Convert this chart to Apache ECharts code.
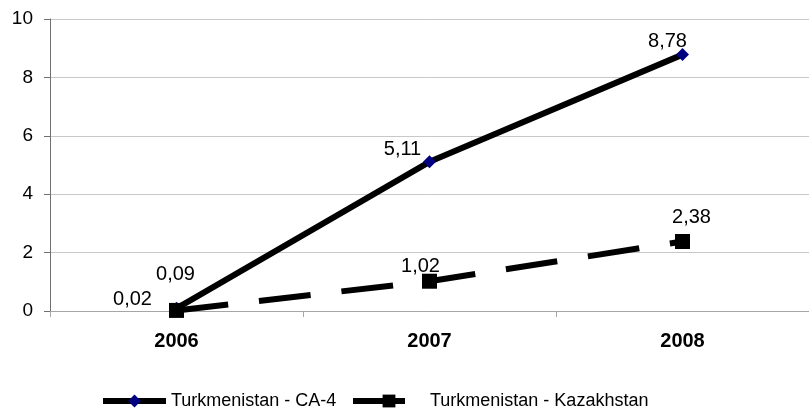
<!DOCTYPE html>
<html>
<head>
<meta charset="utf-8">
<script src="https://cdn.jsdelivr.net/npm/echarts@6/dist/echarts.min.js"></script>
<style>html,body{margin:0;padding:0;background:#fff}#c{width:809px;height:416px}</style>
</head>
<body>
<div id="c"></div>
<script>
var categories = ['2006', '2007', '2008'];
var seriesNames = ['Turkmenistan - CA-4', 'Turkmenistan - Kazakhstan'];
var ca4Values = [0.09, 5.11, 8.78];
var kazValues = [0.02, 1.02, 2.38];
var yTicks = [0, 2, 4, 6, 8, 10];

// label offsets (styling only)
var ca4LabelOffsets = [[-1, -34], [-27, -12], [-15, -13]];
var kazLabelOffsets = [[-44, -11], [-9, -15], [9, -24]];

var FONT = '"Liberation Sans", Arial, sans-serif';

function fmt(v) { return v.toFixed(2).replace('.', ','); }
function buildData(vals, offs) {
  return vals.map(function (v, i) {
    return { value: v, label: { offset: offs[i] } };
  });
}

var chart = echarts.init(document.getElementById('c'), null, { renderer: 'canvas' });
chart.setOption({
  animation: false,
  backgroundColor: '#ffffff',
  textStyle: { fontFamily: FONT },
  grid: { left: 50, top: 19, width: 766, height: 292, containLabel: false },
  xAxis: {
    type: 'category',
    data: categories,
    boundaryGap: true,
    axisLine: { lineStyle: { color: '#a6a6a6', width: 1 } },
    axisTick: { show: true, length: 6, lineStyle: { color: '#a6a6a6' } },
    axisLabel: { fontFamily: FONT, fontSize: 20, fontWeight: 'bold', color: '#000', margin: 20 },
    splitLine: { show: false }
  },
  yAxis: {
    type: 'value',
    min: yTicks[0],
    max: yTicks[yTicks.length - 1],
    interval: 2,
    axisLine: { show: true, lineStyle: { color: '#707070', width: 1 } },
    axisTick: { show: true, length: 6, lineStyle: { color: '#707070' } },
    axisLabel: { fontFamily: FONT, fontSize: 19, color: '#000', margin: 17 },
    splitLine: { show: true, lineStyle: { color: '#c8c8c8', width: 1 } }
  },
  legend: [{
    data: [seriesNames[0]],
    left: 95, top: 387,
    itemWidth: 63, itemHeight: 16,
    textStyle: { fontFamily: FONT, fontSize: 18, color: '#000' },
    lineStyle: { width: 6 }
  }, {
    data: [seriesNames[1]],
    left: 345, top: 387,
    itemWidth: 72, itemHeight: 16,
    textStyle: { fontFamily: FONT, fontSize: 18, color: '#000' },
    lineStyle: { width: 6 }
  }],
  series: [{
    name: seriesNames[0],
    type: 'line',
    data: buildData(ca4Values, ca4LabelOffsets),
    symbol: 'diamond',
    symbolSize: 13,
    itemStyle: { color: '#000080' },
    lineStyle: { color: '#000', width: 6, type: 'solid' },
    label: { show: true, position: 'inside', fontFamily: FONT, fontSize: 20, color: '#000', formatter: function (p) { return fmt(p.value); } },
    z: 2
  }, {
    name: seriesNames[1],
    type: 'line',
    data: buildData(kazValues, kazLabelOffsets),
    symbol: 'rect',
    symbolSize: 15,
    itemStyle: { color: '#000' },
    lineStyle: { color: '#000', width: 6, type: [52, 31] },
    label: { show: true, position: 'inside', fontFamily: FONT, fontSize: 20, color: '#000', formatter: function (p) { return fmt(p.value); } },
    z: 3
  }]
});
</script>
</body>
</html>
